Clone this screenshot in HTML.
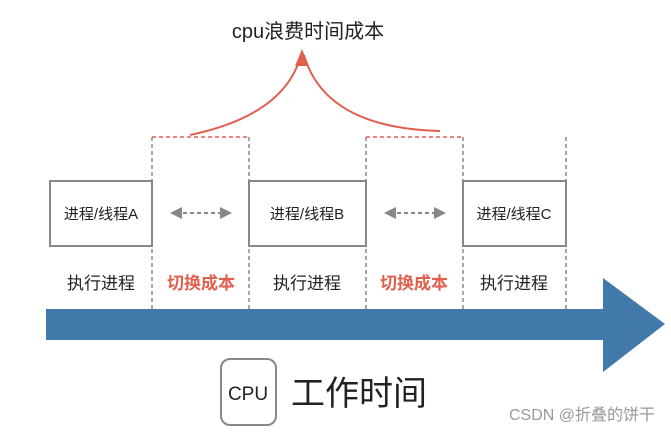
<!DOCTYPE html>
<html><head><meta charset="utf-8"><style>
body{margin:0;width:671px;height:436px;background:#fff;overflow:hidden;font-family:"Liberation Sans","Noto Sans CJK SC",sans-serif}
</style></head><body>
<svg width="671" height="436" xmlns="http://www.w3.org/2000/svg" style="position:absolute;left:0;top:0">
<defs>
<marker id="g" markerWidth="6" markerHeight="6" refX="3" refY="3" orient="auto-start-reverse"><path d="M0,0 L6,3 L0,6 z" fill="#888"/></marker>
</defs>
<text x="308" y="38" font-size="20" text-anchor="middle" fill="#222" font-family="Liberation Sans,Noto Sans CJK SC,sans-serif">cpu浪费时间成本</text>
<path d="M190,135 Q285,115 301,55" fill="none" stroke="#e06050" stroke-width="2"/>
<path d="M440,131 Q325,128 304,55" fill="none" stroke="#e06050" stroke-width="2"/>
<path d="M295,66 L302,49 L309,66 z" fill="#e06050"/>
<g stroke="#e06050" stroke-width="1.5" stroke-dasharray="4,3" fill="none">
<path d="M152,137 H249"/><path d="M366,137 H463"/>
</g>
<g stroke="#888" stroke-width="1.5" stroke-dasharray="4,3" fill="none">
<path d="M152,137 V310"/><path d="M249,137 V310"/><path d="M366,137 V310"/><path d="M463,137 V310"/><path d="M566,137 V310"/>
</g>
<g stroke="#888" stroke-width="2" fill="#fff">
<rect x="50" y="181" width="102" height="65"/>
<rect x="249" y="181" width="117" height="65"/>
<rect x="463" y="181" width="103" height="65"/>
</g>
<g font-size="15" fill="#222" text-anchor="middle">
<text x="101" y="219">进程/线程A</text>
<text x="307" y="219">进程/线程B</text>
<text x="514" y="219">进程/线程C</text>
</g>
<g stroke="#888" stroke-width="2" stroke-dasharray="4,3" marker-start="url(#g)" marker-end="url(#g)">
<path d="M176,213 H226"/><path d="M390,213 H440"/>
</g>
<g font-size="17" text-anchor="middle">
<text x="101" y="289" fill="#222">执行进程</text>
<text x="201" y="289" fill="#e06050" font-weight="bold">切换成本</text>
<text x="307" y="289" fill="#222">执行进程</text>
<text x="414" y="289" fill="#e06050" font-weight="bold">切换成本</text>
<text x="514" y="289" fill="#222">执行进程</text>
</g>
<path d="M46,309 H603 V278 L665,324 L603,372 V340 H46 z" fill="#4079aa"/>
<rect x="221" y="359" width="55" height="66" rx="9" fill="#fff" stroke="#888" stroke-width="2"/>
<text x="248" y="400" font-size="19" text-anchor="middle" fill="#222">CPU</text>
<text x="291" y="405" font-size="34" fill="#222">工作时间</text>
<text x="655" y="420" font-size="16" text-anchor="end" fill="#999">CSDN @折叠的饼干</text>
</svg>
</body></html>
